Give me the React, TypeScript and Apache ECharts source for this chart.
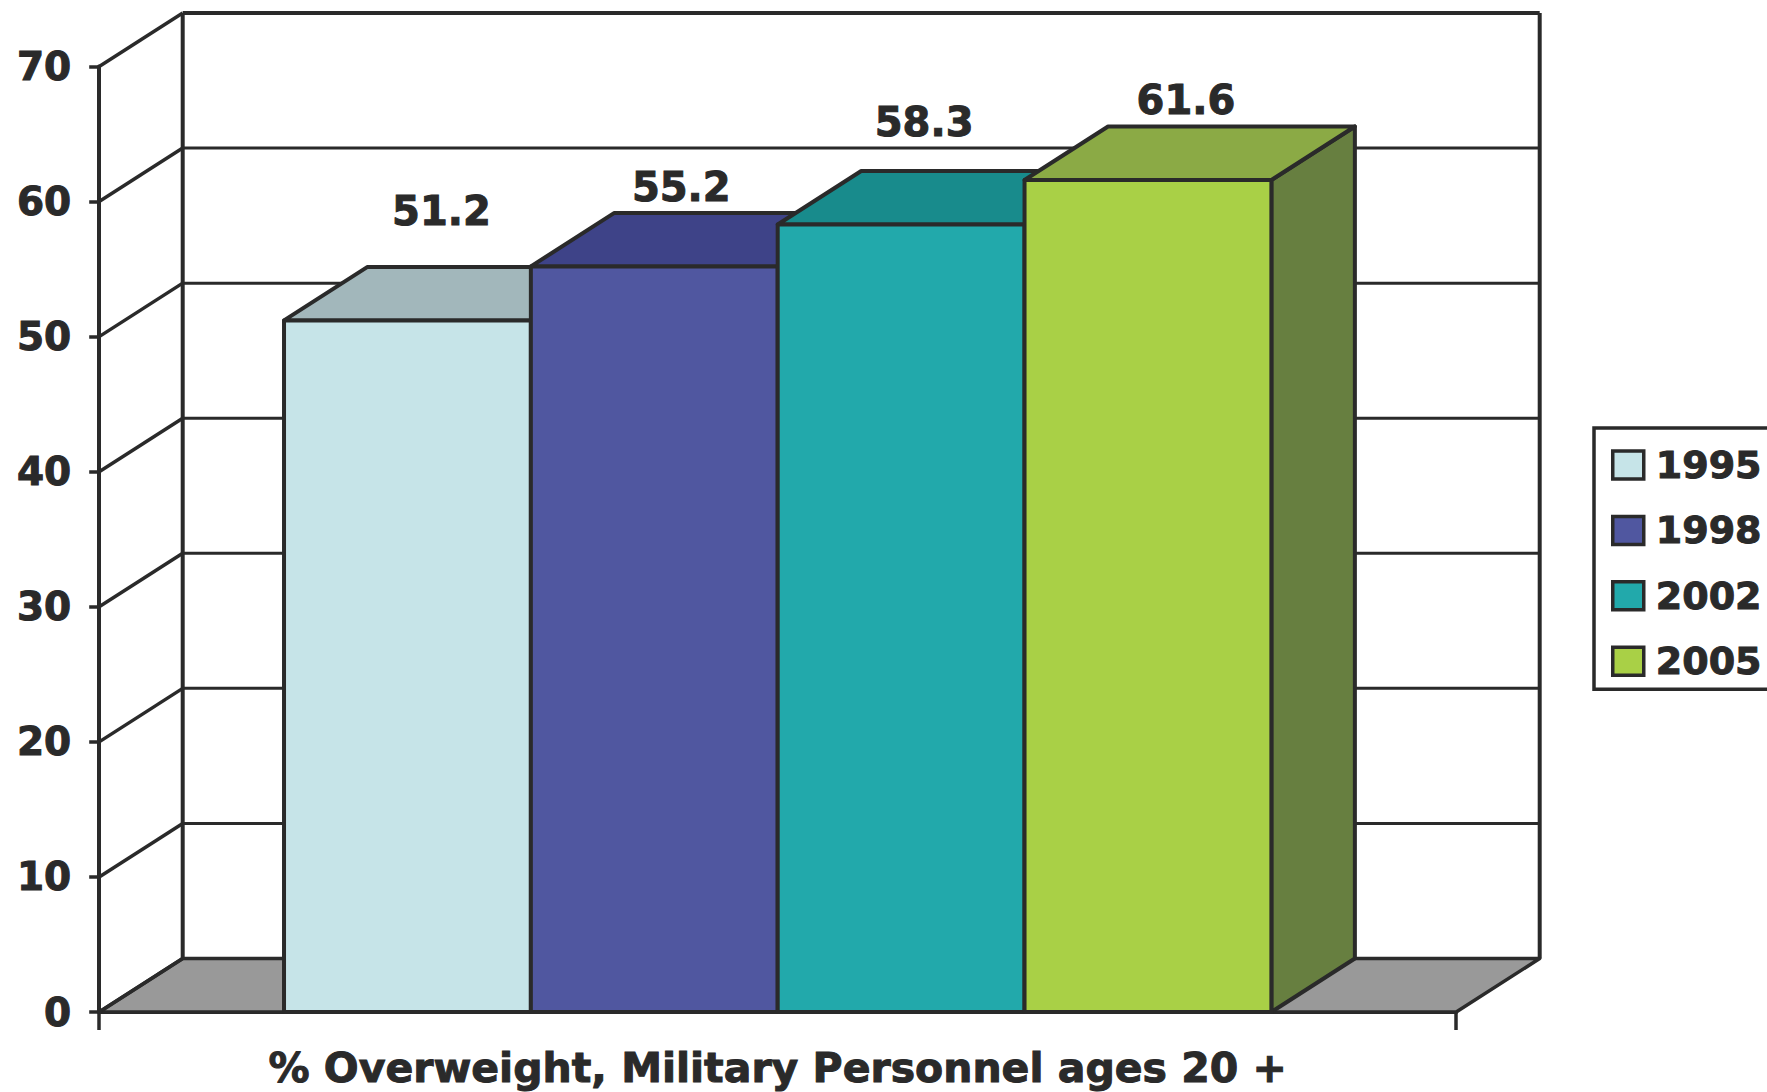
import React, { useEffect, useRef } from "react";
import * as echarts from "echarts";

const axisName = "% Overweight, Military Personnel ages 20 +";
const years = ["1995", "1998", "2002", "2005"];
const values = [51.2, 55.2, 58.3, 61.6];
const tickValues = [0, 10, 20, 30, 40, 50, 60, 70];

const frontColors = ["#C6E4E8", "#5057A0", "#22A9AB", "#A9D046"];
const topColors = ["#A2B7BB", "#3E4388", "#188B8C", "#8BAA45"];
const sideColors = ["#7F9093", "#30346C", "#126C6D", "#677F40"];

const INK = "#2A2A2A";
const FONT = "'DejaVu Sans', 'Liberation Sans', Arial, sans-serif";
const DX = 83.5;
const DY = 53.5;
const BAR_SHARE = 0.1819; // each bar's share of the category band
const labelShift: [number, number][] = [
  [34, -56],
  [27, -26],
  [23, -49],
  [38, -26],
];

const poly = (points: number[][], fill: string, lineWidth: number) => ({
  type: "polygon",
  shape: { points },
  style: { fill, stroke: INK, lineWidth, lineJoin: "round" },
});

const line = (x1: number, y1: number, x2: number, y2: number, lineWidth: number) => ({
  type: "line",
  shape: { x1, y1, x2, y2 },
  style: { stroke: INK, lineWidth, fill: "none" },
});

export default function App() {
  const ref = useRef<HTMLDivElement>(null);

  useEffect(() => {
    document.body.style.margin = "0";
    const chart = echarts.init(ref.current!, null, { renderer: "svg" });

    const floorSeries = {
      type: "custom",
      name: "floor",
      silent: true,
      z: 2,
      clip: false,
      data: [[0, 0]],
      renderItem: (params: any) => {
        const c = params.coordSys;
        const yb = c.y + c.height;
        return {
          type: "group",
          children: [
            poly(
              [
                [c.x, yb],
                [c.x + DX, yb - DY],
                [c.x + c.width + DX, yb - DY],
                [c.x + c.width, yb],
              ],
              "#999999",
              3.5
            ),
            line(c.x + DX, yb - DY, c.x + DX, c.y - DY, 4),
            line(c.x + c.width + DX, yb - DY, c.x + c.width + DX, c.y - DY, 4),
          ],
        };
      },
    };

    const wallSeries = {
      type: "custom",
      name: "walls",
      silent: true,
      z: 2,
      clip: false,
      data: tickValues.map((t) => [0, t]),
      renderItem: (params: any, api: any) => {
        const c = params.coordSys;
        const t = api.value(1);
        const y = api.coord([0, t])[1];
        return {
          type: "group",
          children: [
            line(c.x, y, c.x + DX, y - DY, 3.5),
            line(c.x + DX, y - DY, c.x + c.width + DX, y - DY, t === 70 ? 4 : 3),
          ],
        };
      },
    };

    const barSeries = years.map((year, i) => ({
      type: "custom",
      name: year,
      z: 3,
      clip: false,
      data: [[0, values[i]]],
      renderItem: (_p: any, api: any) => {
        const v = api.value(1);
        const [cx, y] = api.coord([0, v]);
        const y0 = api.coord([0, 0])[1];
        const w = api.size([1, 0])[0] * BAR_SHARE;
        const x = cx + (i - 2) * w;
        return {
          type: "group",
          children: [
            poly(
              [
                [x + w, y],
                [x + w + DX, y - DY],
                [x + w + DX, y0 - DY],
                [x + w, y0],
              ],
              sideColors[i],
              4
            ),
            poly(
              [
                [x, y],
                [x + DX, y - DY],
                [x + w + DX, y - DY],
                [x + w, y],
              ],
              topColors[i],
              4
            ),
            poly(
              [
                [x, y],
                [x + w, y],
                [x + w, y0],
                [x, y0],
              ],
              frontColors[i],
              4
            ),
            {
              type: "text",
              x: x + w / 2 + labelShift[i][0],
              y: y - DY + labelShift[i][1],
              style: {
                text: String(v),
                font: `bold 40px ${FONT}`,
                fill: INK,
                stroke: INK,
                lineWidth: 1,
                align: "center",
                verticalAlign: "middle",
              },
            },
          ],
        };
      },
    }));

    chart.setOption({
      animation: false,
      backgroundColor: "#FFFFFF",
      grid: { left: 99.2, top: 66.5, width: 1357, height: 945.5, containLabel: false },
      xAxis: {
        type: "category",
        data: [axisName],
        boundaryGap: true,
        axisLine: { lineStyle: { color: INK, width: 4 } },
        axisTick: { show: true, length: 18, lineStyle: { color: INK, width: 3.5 } },
        axisLabel: {
          margin: 35,
          interval: 0,
          color: INK,
          fontFamily: FONT,
          fontWeight: "bold",
          fontSize: 41,
          textBorderColor: INK,
          textBorderWidth: 1,
        },
      },
      yAxis: {
        type: "value",
        min: 0,
        max: 70,
        interval: 10,
        splitLine: { show: false },
        axisLine: { show: true, lineStyle: { color: INK, width: 4 } },
        axisTick: { show: true, length: 10, lineStyle: { color: INK, width: 3.5 } },
        axisLabel: {
          margin: 28,
          color: INK,
          fontFamily: FONT,
          fontWeight: "bold",
          fontSize: 39,
          textBorderColor: INK,
          textBorderWidth: 1,
        },
      },
      legend: {
        show: true,
        orient: "vertical",
        left: 1594,
        top: 428,
        padding: [14, 40, 5, 17],
        itemGap: 19.4,
        itemWidth: 31,
        itemHeight: 28,
        borderColor: INK,
        borderWidth: 3.5,
        backgroundColor: "#FFFFFF",
        textStyle: {
          color: INK,
          fontFamily: FONT,
          fontWeight: "bold",
          fontSize: 38,
          lineHeight: 46,
          padding: [0, 0, 0, 7],
          textBorderColor: INK,
          textBorderWidth: 1,
        },
        data: years.map((name, i) => ({
          name,
          icon: "rect",
          itemStyle: { color: frontColors[i], borderColor: INK, borderWidth: 3.5 },
        })),
      },
      series: [floorSeries, wallSeries, ...barSeries],
    });

    return () => chart.dispose();
  }, []);

  return <div ref={ref} style={{ width: 1767, height: 1092 }} />;
}
